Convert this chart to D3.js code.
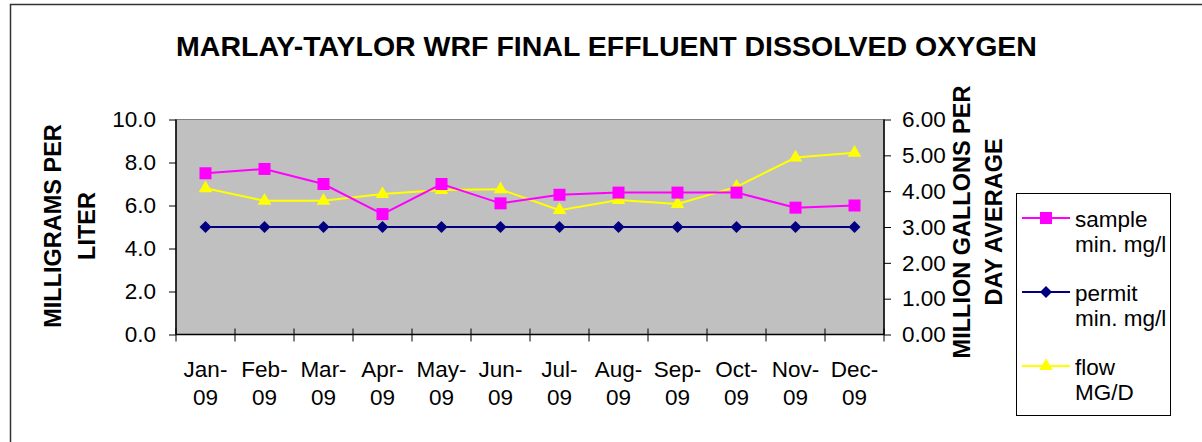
<!DOCTYPE html>
<html>
<head>
<meta charset="utf-8">
<script src="https://cdn.jsdelivr.net/npm/d3@7"></script>
<style>
  body { margin: 0; background: #fff; }
  svg { display: block; font-family: "Liberation Sans", Arial, sans-serif; }
</style>
</head>
<body>
<div id="chart"></div>
<script>
// chart data
const months = ["Jan-09", "Feb-09", "Mar-09", "Apr-09", "May-09", "Jun-09",
                "Jul-09", "Aug-09", "Sep-09", "Oct-09", "Nov-09", "Dec-09"];
const sampleMin = [7.5, 7.7, 7.0, 5.6, 7.0, 6.1, 6.5, 6.6, 6.6, 6.6, 5.9, 6.0];
const permitMin = [5.0, 5.0, 5.0, 5.0, 5.0, 5.0, 5.0, 5.0, 5.0, 5.0, 5.0, 5.0];
const flowMGD = [4.08, 3.73, 3.73, 3.92, 4.03, 4.05, 3.47, 3.75, 3.64, 4.12, 4.94, 5.07];
const leftTicks = [0, 2, 4, 6, 8, 10];
const rightTicks = [0, 1, 2, 3, 4, 5, 6];

const width = 1202, height = 442;
const plot = { left: 176, right: 884, top: 119.5, bottom: 334.5 };
const fontSize = 22.5;

const svg = d3.select("#chart").append("svg")
    .attr("width", width)
    .attr("height", height);

//outer chart frame
svg.append("rect")
    .attr("x", 10.5).attr("y", 4.5)
    .attr("width", 1200).attr("height", 445)
    .attr("fill", "#fff")
    .attr("stroke", "#333").attr("stroke-width", 1.5);

//title
svg.append("text")
    .attr("x", 606.5).attr("y", 56)
    .attr("text-anchor", "middle")
    .attr("font-size", 28.5).attr("font-weight", "bold")
    .text("MARLAY-TAYLOR WRF FINAL EFFLUENT DISSOLVED OXYGEN");

const x = d3.scaleBand().domain(months).range([plot.left, plot.right]).padding(0);
const yLeft = d3.scaleLinear().domain([0, 10]).range([plot.bottom, plot.top]);
const yRight = d3.scaleLinear().domain([0, 6]).range([plot.bottom, plot.top]);

//plot background
svg.append("rect")
    .attr("x", plot.left).attr("y", plot.top)
    .attr("width", plot.right - plot.left).attr("height", plot.bottom - plot.top)
    .attr("fill", "#c0c0c0")
    .attr("stroke", "#808080").attr("stroke-width", 1);

//left axis
const leftAxis = svg.append("g")
    .attr("transform", `translate(${plot.left},0)`)
    .call(d3.axisLeft(yLeft).tickValues(leftTicks).tickFormat(d3.format(".1f")).tickSize(7).tickPadding(13));

//right axis
const rightAxis = svg.append("g")
    .attr("transform", `translate(${plot.right},0)`)
    .call(d3.axisRight(yRight).tickValues(rightTicks).tickFormat(d3.format(".2f")).tickSize(7).tickPadding(11));

//bottom axis, ticks on band edges
const bottomAxis = svg.append("g")
    .attr("transform", `translate(0,${plot.bottom})`);
bottomAxis.append("line")
    .attr("x1", plot.left).attr("x2", plot.right)
    .attr("stroke", "#000").attr("stroke-width", 1.5);
bottomAxis.selectAll(".edge")
    .data(months.concat(["end"]))
    .enter().append("line")
    .attr("x1", (d, i) => plot.left + i * x.bandwidth())
    .attr("x2", (d, i) => plot.left + i * x.bandwidth())
    .attr("y1", -6).attr("y2", 7)
    .attr("stroke", "#000");
const xLabels = bottomAxis.selectAll(".lbl")
    .data(months)
    .enter().append("text")
    .attr("text-anchor", "middle")
    .attr("font-size", fontSize)
    .attr("x", d => x(d) + x.bandwidth() / 2);
xLabels.append("tspan").attr("x", d => x(d) + x.bandwidth() / 2).attr("y", 42)
    .text(d => d.split("-")[0] + "-");
xLabels.append("tspan").attr("x", d => x(d) + x.bandwidth() / 2).attr("y", 70.5)
    .text(d => d.split("-")[1]);

[leftAxis, rightAxis].forEach(ax => {
    ax.select(".domain").attr("stroke", "#000").attr("stroke-width", 1.5);
    ax.selectAll("text").attr("font-size", fontSize).attr("fill", "#000")
        .attr("font-family", "'Liberation Sans', Arial, sans-serif");
    ax.selectAll(".tick line").attr("stroke", "#000");
});
rightAxis.select(".domain").attr("d", `M0,${plot.top}V${plot.bottom}`);
leftAxis.select(".domain").attr("d", `M0,${plot.top}V${plot.bottom}`);

//axis titles
const leftTitle = svg.append("text")
    .attr("transform", "translate(70,226) rotate(-90)")
    .attr("text-anchor", "middle")
    .attr("font-size", 23.5).attr("font-weight", "bold");
leftTitle.append("tspan").attr("x", 0).attr("y", -8.6).text("MILLIGRAMS PER");
leftTitle.append("tspan").attr("x", 0).attr("y", 25.4).text("LITER");

const rightTitle = svg.append("text")
    .attr("transform", "translate(977,222) rotate(-90)")
    .attr("text-anchor", "middle")
    .attr("font-size", 23.5).attr("font-weight", "bold");
rightTitle.append("tspan").attr("x", 0).attr("y", -7).text("MILLION GALLONS PER");
rightTitle.append("tspan").attr("x", 0).attr("y", 24.5).text("DAY AVERAGE");

//series definitions
const series = [
    { name: ["sample", "min. mg/l"], values: sampleMin, scale: yLeft, color: "#ff00ff",
      symbol: d3.symbol().type(d3.symbolSquare).size(144), rotate: 0 },
    { name: ["permit", "min. mg/l"], values: permitMin, scale: yLeft, color: "#000080",
      symbol: d3.symbol().type(d3.symbolSquare).size(72), rotate: 45 },
    { name: ["flow", "MG/D"], values: flowMGD, scale: yRight, color: "#ffff00",
      symbol: d3.symbol().type(d3.symbolTriangle).size(80), rotate: 0 }
];

const drawOrder = [series[1], series[2], series[0]];
drawOrder.forEach(s => {
    const line = d3.line()
        .x((d, i) => x(months[i]) + x.bandwidth() / 2)
        .y(d => s.scale(d));
    svg.append("path")
        .datum(s.values)
        .attr("d", line)
        .attr("fill", "none")
        .attr("stroke", s.color)
        .attr("stroke-width", 2);
    svg.selectAll(null)
        .data(s.values)
        .enter().append("path")
        .attr("d", s.symbol())
        .attr("transform", (d, i) => `translate(${x(months[i]) + x.bandwidth() / 2},${s.scale(d)}) rotate(${s.rotate})`)
        .attr("fill", s.color);
});

//legend
const legend = svg.append("g");
legend.append("rect")
    .attr("x", 1016.5).attr("y", 193.5)
    .attr("width", 154).attr("height", 222)
    .attr("fill", "#fff").attr("stroke", "#000").attr("stroke-width", 1);

series.forEach((s, i) => {
    const cy = 218 + i * 74;
    const g = legend.append("g");
    g.append("line")
        .attr("x1", 1022).attr("x2", 1070)
        .attr("y1", cy).attr("y2", cy)
        .attr("stroke", s.color).attr("stroke-width", 2);
    g.append("path")
        .attr("d", s.symbol())
        .attr("transform", `translate(1046,${cy}) rotate(${s.rotate})`)
        .attr("fill", s.color);
    const t = g.append("text").attr("font-size", fontSize);
    t.append("tspan").attr("x", 1075).attr("y", cy + 8.5).text(s.name[0]);
    t.append("tspan").attr("x", 1075).attr("y", cy + 34).text(s.name[1]);
});
</script>
</body>
</html>
